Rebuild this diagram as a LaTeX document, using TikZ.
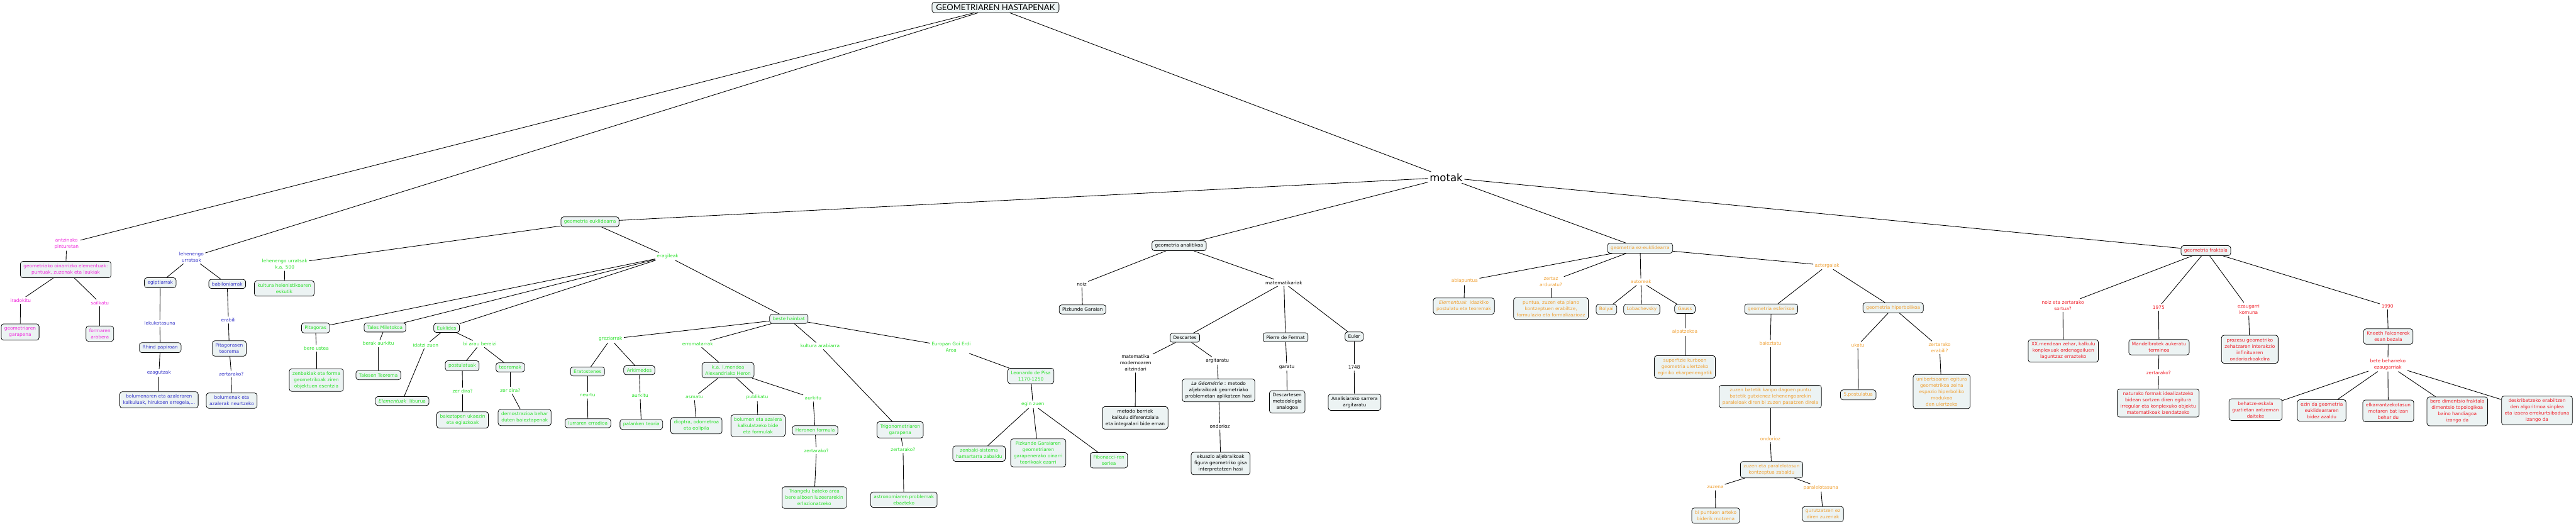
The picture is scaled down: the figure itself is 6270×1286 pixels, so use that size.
\documentclass[tikz,border=0pt]{standalone}
\usepackage{fontspec}
\setmainfont{DejaVu Sans}
\newfontfamily\titlefont{Lato}
\definecolor{cmag}{RGB}{240,40,220}
\definecolor{cblu}{RGB}{50,50,200}
\definecolor{cgrn}{RGB}{40,225,40}
\definecolor{corg}{RGB}{240,160,50}
\definecolor{cred}{RGB}{240,30,40}
\definecolor{boxfill}{RGB}{236,243,243}
\newcommand\myfs{\fontsize{3.4pt}{4.6pt}\selectfont}
\tikzset{
  box/.style={draw=black, line width=0.35pt, rounded corners=1.8pt, fill=boxfill, align=center, inner xsep=2.3pt, inner ysep=2pt, font=\myfs},
  lbl/.style={align=center, inner sep=1pt, font=\myfs},
  mbox/.style={box,text=cmag}, mlbl/.style={lbl,text=cmag},
  bbox/.style={box,text=cblu}, blbl/.style={lbl,text=cblu},
  gbox/.style={box,text=cgrn}, glbl/.style={lbl,text=cgrn},
  kbox/.style={box,text=black}, klbl/.style={lbl,text=black},
  obox/.style={box,text=corg}, olbl/.style={lbl,text=corg},
  rbox/.style={box,text=cred}, rlbl/.style={lbl,text=cred},
  conn/.style={draw=black, line width=0.4pt}
}
\begin{document}
\begin{tikzpicture}[x=0.3pt,y=-0.3pt]
\useasboundingbox[fill=white] (0,0) rectangle (6270,1286);
% title and types
\node[box, font=\titlefont\fontsize{6pt}{7pt}\selectfont, inner xsep=3pt, inner ysep=1.6pt] (title) at (2423,18) {GEOMETRIAREN HASTAPENAK};
\node[lbl, font=\fontsize{7.6pt}{9pt}\selectfont] (motak) at (3520,432) {motak};
% magenta
\node[mlbl] (antz) at (162,593) {antzinako\\pinturetan};
\node[mbox] (geomOin) at (160,656) {geometriako oinarrizko elementuak:\\puntuak, zuzenak eta laukiak};
\node[mlbl] (irad) at (50,731) {iradokitu};
\node[mlbl] (sail) at (243,737) {sailkatu};
\node[mbox] (garap) at (49,808) {geometriaren\\garapena};
\node[mbox] (formar) at (243,812) {formaren\\arabera};
% blue
\node[blbl] (lehenU) at (466,626) {lehenengo\\urratsak};
\node[bbox] (egipt) at (390,688) {egiptiarrak};
\node[bbox] (babil) at (553,691) {babiloniarrak};
\node[blbl] (lekuk) at (389,787) {lekukotasuna};
\node[blbl] (erab) at (556,779) {erabili};
\node[bbox] (rhind) at (390,846) {Rhind papiroan};
\node[bbox] (pitT) at (558,848) {Pitagorasen\\teorema};
\node[blbl] (ezag) at (387,907) {ezagutzak};
\node[blbl] (zert1) at (563,910) {zertarako?};
\node[bbox] (bolA) at (387,973) {bolumenaren eta azaleraren\\kalkuluak, hirukoen erregela,...};
\node[bbox] (bolB) at (564,975) {bolumenak eta\\azalerak neurtzeko};
% green
\node[gbox] (euk) at (1436,540) {geometria euklidearra};
\node[glbl] (lehenG) at (693,643) {lehenengo urratsak\\k.a. 500};
\node[gbox] (kultH) at (692,702) {kultura helenistikoaren\\eskutik};
\node[glbl] (erag) at (1625,624) {eragileak};
\node[gbox] (pitag) at (768,798) {Pitagoras};
\node[gbox] (tales) at (937,797) {Tales Miletokoa};
\node[gbox] (euklid) at (1087,798) {Euklides};
\node[glbl] (bereU) at (770,848) {bere ustea};
\node[glbl] (berakA) at (921,836) {berak aurkitu};
\node[glbl] (idatzi) at (1036,840) {idatzi zuen};
\node[glbl] (biArau) at (1168,837) {bi arau bereizi};
\node[gbox] (zenbak) at (770,925) {zenbakiak eta forma\\geometrikoak ziren\\objektuen esentzia};
\node[gbox] (talesT) at (921,913) {Talesen Teorema};
\node[gbox] (elemL) at (979,976) {\textit{Elementuak}\ \ liburua};
\node[gbox] (postul) at (1125,890) {postulatuak};
\node[gbox] (teorem) at (1242,894) {teoremak};
\node[glbl] (zerD1) at (1126,952) {zer dira?};
\node[glbl] (zerD2) at (1242,950) {zer dira?};
\node[gbox] (baiez) at (1126,1022) {baieztapen ukaezin\\eta egiazkoak};
\node[gbox] (demos) at (1277,1016) {demostrazioa behar\\duten baieztapenak};
\node[gbox] (beste) at (1920,776) {beste hainbat};
\node[glbl] (grez) at (1486,825) {greziarrak};
\node[glbl] (erroma) at (1698,837) {erromatarrak};
\node[glbl] (kultA) at (1996,842) {kultura arabiarra};
\node[glbl] (europ) at (2315,844) {Europan Goi Erdi\\Aroa};
\node[gbox] (erat) at (1430,904) {Eratostenes};
\node[gbox] (arkim) at (1556,901) {Arkimedes};
\node[gbox] (heron) at (1772,901) {k.a. I.mendea\\Alexandriako Heron};
\node[glbl] (neurtu) at (1430,962) {neurtu};
\node[glbl] (aurk1) at (1558,963) {aurkitu};
\node[glbl] (asmatu) at (1690,966) {asmatu};
\node[glbl] (publik) at (1843,967) {publikatu};
\node[glbl] (aurk2) at (1979,969) {aurkitu};
\node[gbox] (lurr) at (1431,1030) {lurraren erradioa};
\node[gbox] (palank) at (1561,1033) {palanken teoria};
\node[gbox] (diopt) at (1695,1036) {dioptra, odometroa\\eta eolipila};
\node[gbox] (bolC) at (1845,1036) {bolumen eta azalera\\kalkulatzeko bide\\eta formulak};
\node[gbox] (heronF) at (1984,1047) {Heronen formula};
\node[glbl] (zert2) at (1987,1097) {zertarako?};
\node[gbox] (trian) at (1982,1211) {Triangelu bateko area\\bere alboen luzeerarekin\\erlazionatzeko};
\node[gbox] (trigo) at (2191,1046) {Trigonometriaren\\garapena};
\node[glbl] (zert3) at (2198,1094) {zertarako?};
\node[gbox] (astro) at (2200,1216) {astronomiaren problemak\\ebazteko};
\node[gbox] (leon) at (2509,915) {Leonardo de Pisa\\1170-1250};
\node[glbl] (eginZ) at (2514,984) {egin zuen};
\node[gbox] (zenbS) at (2383,1104) {zenbaki-sistema\\hamartarra zabaldu};
\node[gbox] (pizkG) at (2527,1102) {Pizkunde Garaiaren\\geometriaren\\garapenerako oinarri\\teorikoak ezarri};
\node[gbox] (fibo) at (2699,1120) {Fibonacci-ren\\seriea};
% black (analytic)
\node[kbox] (anal) at (2870,598) {geometria analitikoa};
\node[klbl] (noiz) at (2633,691) {noiz};
\node[kbox] (pizk) at (2635,753) {Pizkunde Garaian};
\node[klbl] (matem) at (3125,688) {matematikariak};
\node[kbox] (desc) at (2884,822) {Descartes};
\node[kbox] (ferm) at (3129,821) {Pierre de Fermat};
\node[kbox] (euler) at (3296,819) {Euler};
\node[klbl] (matMod) at (2764,883) {matematika\\modernoaren\\aitzindari};
\node[klbl] (argit) at (2963,878) {argitaratu};
\node[klbl] (garatu) at (3132,893) {garatu};
\node[klbl] (y1748) at (3296,894) {1748};
\node[kbox] (metodo) at (2763,1017) {metodo berriek\\kalkulu diferentziala\\eta integralari bide eman};
\node[kbox] (lageo) at (2966,950) {\textit{La Géométrie} : metodo\\aljebraikoak geometriako\\problemetan aplikatzen hasi};
\node[kbox] (descM) at (3133,978) {Descartesen\\metodologia\\analogoa};
\node[kbox] (analis) at (3297,979) {Analisiarako sarrera\\argitaratu};
\node[klbl] (ondo1) at (2969,1037) {ondorioz};
\node[kbox] (ekuaz) at (2971,1128) {ekuazio aljebraikoak\\figura geometriko gisa\\interpretatzen hasi};
% orange
\node[obox] (ezeuk) at (3992,604) {geometria ez-euklidearra};
\node[olbl] (abiap) at (3565,684) {abiapuntua};
\node[olbl] (zertaz) at (3775,685) {zertaz\\arduratu?};
\node[olbl] (autor) at (3994,686) {autoreak};
\node[olbl] (aztergai) at (4447,646) {aztergaiak};
\node[obox] (elemI) at (3563,745) {\textit{Elementuak}\ \ idazkiko\\postulatu eta teoremak};
\node[obox] (puntua) at (3775,751) {puntua, zuzen eta plano\\kontzeptuen erabiltze,\\formulazio eta formalizazioaz};
\node[obox] (bolyai) at (3910,753) {Bolyai};
\node[obox] (lobach) at (3996,753) {Lobachevsky};
\node[obox] (gauss) at (4101,752) {Gauss};
\node[olbl] (aipatz) at (4101,808) {aipatzekoa};
\node[obox] (superf) at (4101,893) {superfizie kurboen\\geometria ulertzeko\\eginiko ekarpenengatik};
\node[obox] (esfer) at (4311,752) {geometria esferikoa};
\node[obox] (hiperb) at (4608,749) {geometria hiperbolikoa};
\node[olbl] (baiezt) at (4309,836) {baieztatu};
\node[olbl] (ukatu) at (4522,840) {ukatu};
\node[olbl] (zertE) at (4721,846) {zertarako\\erabili?};
\node[obox] (zuzenB) at (4309,965) {zuzen batetik kanpo dagoen puntu\\batetik gutxienez lehenengoarekin\\paraleloak diren bi zuzen pasatzen direla};
\node[obox] (post5) at (4523,961) {5.postulatua};
\node[obox] (unibert) at (4726,953) {unibertsoaren egitura\\geometrikoa zeina\\espazio hiperboliko\\modukoa\\den ulertzeko};
\node[olbl] (ondo2) at (4309,1068) {ondorioz};
\node[obox] (zuzenP) at (4312,1143) {zuzen eta paralelotasun\\kontzeptua zabaldu};
\node[olbl] (zuzena) at (4175,1186) {zuzena};
\node[olbl] (paral) at (4432,1187) {paralelotasuna};
\node[obox] (biPunt) at (4176,1255) {bi puntuen arteko\\biderik motzena};
\node[obox] (gurutz) at (4437,1251) {gurutzatzen ez\\diren zuzenak};
% red
\node[rbox] (frakt) at (5369,610) {geometria fraktala};
\node[rlbl] (noizE) at (5021,743) {noiz eta zertarako\\sortua?};
\node[rlbl] (y1975) at (5254,748) {1975};
\node[rlbl] (ezaugK) at (5473,752) {ezaugarri\\komuna};
\node[rlbl] (y1990) at (5811,745) {1990};
\node[rbox] (xx) at (5022,854) {XX.mendean zehar, kalkulu\\konplexuak ordenagailuen\\laguntzaz errazteko};
\node[rbox] (mandel) at (5255,845) {Mandelbrotek aukeratu\\terminoa};
\node[rlbl] (zertR) at (5254,907) {zertarako?};
\node[rbox] (natur) at (5253,981) {naturako formak idealizatzeko\\bidean sortzen diren egitura\\irregular eta konplexuko objektu\\matematikoak izendatzeko};
\node[rbox] (prozesu) at (5476,850) {prozesu geometriko\\zehatzaren interakzio\\infinituaren\\ondoriozkoakdira};
\node[rbox] (kneeth) at (5813,819) {Kneeth Falconerek\\esan bezala};
\node[rlbl] (bete) at (5812,887) {bete beharreko\\ezaugarriak};
\node[rbox] (behatze) at (5490,997) {behatze-eskala\\guztietan antzeman\\daiteke};
\node[rbox] (ezin) at (5651,999) {ezin da geometria\\euklidearraren\\bidez azaldu};
\node[rbox] (elkar) at (5813,1000) {elkarrantzekotasun\\motaren bat izan\\behar du};
\node[rbox] (bereD) at (5981,1001) {bere dimentsio fraktala\\dimentsio topologikoa\\baino handiagoa\\izango da};
\node[rbox] (deskr) at (6175,999) {deskribatzeko erabiltzen\\den algoritmoa sinplea\\eta izaera errekurtsiboduna\\izango da};
% connectors
\foreach \a/\b in {title/antz, antz/geomOin, geomOin/irad, irad/garap, geomOin/sail, sail/formar,
  title/lehenU, lehenU/egipt, lehenU/babil, egipt/lekuk, lekuk/rhind, rhind/ezag, ezag/bolA, babil/erab, erab/pitT, pitT/zert1, zert1/bolB,
  title/motak, motak/euk, motak/anal, motak/ezeuk, motak/frakt,
  euk/lehenG, lehenG/kultH, euk/erag, erag/pitag, erag/tales, erag/euklid, erag/beste,
  pitag/bereU, bereU/zenbak, tales/berakA, berakA/talesT, euklid/idatzi, idatzi/elemL, euklid/biArau, biArau/postul, biArau/teorem,
  postul/zerD1, zerD1/baiez, teorem/zerD2, zerD2/demos,
  beste/grez, beste/erroma, beste/kultA, beste/europ, grez/erat, grez/arkim, erat/neurtu, neurtu/lurr, arkim/aurk1, aurk1/palank,
  erroma/heron, heron/asmatu, asmatu/diopt, heron/publik, publik/bolC, heron/aurk2, aurk2/heronF, heronF/zert2, zert2/trian,
  kultA/trigo, trigo/zert3, zert3/astro, europ/leon, leon/eginZ, eginZ/zenbS, eginZ/pizkG, eginZ/fibo,
  anal/noiz, noiz/pizk, anal/matem, matem/desc, matem/ferm, matem/euler, desc/matMod, matMod/metodo, desc/argit, argit/lageo, lageo/ondo1, ondo1/ekuaz,
  ferm/garatu, garatu/descM, euler/y1748, y1748/analis,
  ezeuk/abiap, abiap/elemI, ezeuk/zertaz, zertaz/puntua, ezeuk/autor, autor/bolyai, autor/lobach, autor/gauss, gauss/aipatz, aipatz/superf,
  ezeuk/aztergai, aztergai/esfer, aztergai/hiperb, esfer/baiezt, baiezt/zuzenB, zuzenB/ondo2, ondo2/zuzenP, zuzenP/zuzena, zuzena/biPunt, zuzenP/paral, paral/gurutz,
  hiperb/ukatu, ukatu/post5, hiperb/zertE, zertE/unibert,
  frakt/noizE, noizE/xx, frakt/y1975, y1975/mandel, mandel/zertR, zertR/natur, frakt/ezaugK, ezaugK/prozesu, frakt/y1990, y1990/kneeth, kneeth/bete,
  bete/behatze, bete/ezin, bete/elkar, bete/bereD, bete/deskr}
  {\draw[conn] (\a) -- (\b);}
\end{tikzpicture}
\end{document}
